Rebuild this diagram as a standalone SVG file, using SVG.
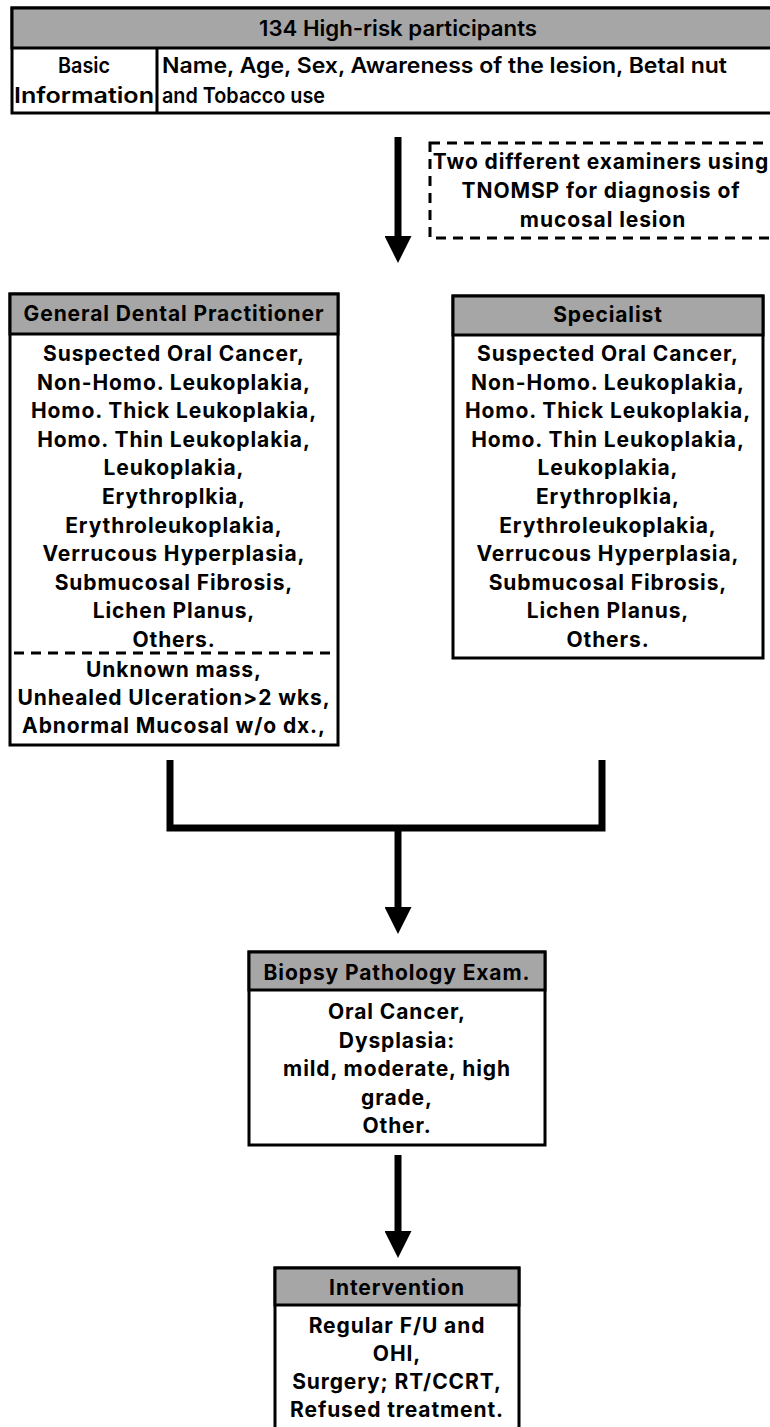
<svg xmlns="http://www.w3.org/2000/svg" width="770" height="1427" viewBox="0 0 770 1427">
<style>
.box{fill:#fff;stroke:#000;stroke-width:3}
.hdr{fill:#a6a6a6;stroke:#000;stroke-width:3}
.dash{fill:none;stroke:#000;stroke-width:3;stroke-dasharray:10 7}
.t{font-family:Inter,"DejaVu Sans",sans-serif;font-weight:700;font-size:21px;letter-spacing:0.9px;fill:#000;text-anchor:middle}
.tt{font-family:Inter,"Liberation Sans",sans-serif;font-weight:600;font-size:21.5px;fill:#000}
.c{fill:none;stroke:#000;stroke-width:7}
</style>
<defs>
<marker id="ah" markerUnits="userSpaceOnUse" viewBox="0 0 27 27" markerWidth="27" markerHeight="27" refX="0" refY="13.5" orient="auto">
<path d="M0,0 L27,13.5 L0,27 z" fill="#000"/>
</marker>
</defs>
<g id="participants">
<rect class="box" x="12" y="8" width="775" height="105"/>
<rect class="hdr" x="12" y="8" width="775" height="40"/>
<line x1="157" y1="48" x2="157" y2="113" stroke="#000" stroke-width="3"/>
<text class="tt" x="398" y="36" text-anchor="middle" textLength="278" lengthAdjust="spacingAndGlyphs">134 High-risk participants</text>
<text class="tt" x="84" y="73" text-anchor="middle" textLength="52" lengthAdjust="spacingAndGlyphs">Basic</text>
<text class="tt" x="84" y="103" text-anchor="middle" textLength="140" lengthAdjust="spacingAndGlyphs">Information</text>
<text class="tt" x="162" y="73" textLength="565" lengthAdjust="spacingAndGlyphs">Name, Age, Sex, Awareness of the lesion, Betal nut</text>
<text class="tt" x="162" y="103" textLength="163" lengthAdjust="spacingAndGlyphs">and Tobacco use</text>
</g>
<g id="examiners-note">
<rect class="dash" x="430" y="143" width="360" height="95"/>
<text class="t" x="601" y="169">Two different examiners using</text>
<text class="t" x="601" y="198">TNOMSP for diagnosis of</text>
<text class="t" x="603" y="227">mucosal lesion</text>
</g>
<g id="gdp">
<rect class="box" x="10" y="294" width="328" height="451"/>
<rect class="hdr" x="10" y="294" width="328" height="40"/>
<text class="t" x="174" y="321">General Dental Practitioner</text>
<text class="t" x="174" y="361">Suspected Oral Cancer,</text>
<text class="t" x="174" y="389.6">Non-Homo. Leukoplakia,</text>
<text class="t" x="174" y="418.2">Homo. Thick Leukoplakia,</text>
<text class="t" x="174" y="446.8">Homo. Thin Leukoplakia,</text>
<text class="t" x="174" y="475.4">Leukoplakia,</text>
<text class="t" x="174" y="504">Erythroplkia,</text>
<text class="t" x="174" y="532.6">Erythroleukoplakia,</text>
<text class="t" x="174" y="561.2">Verrucous Hyperplasia,</text>
<text class="t" x="174" y="589.8">Submucosal Fibrosis,</text>
<text class="t" x="174" y="618.4">Lichen Planus,</text>
<text class="t" x="174" y="647">Others.</text>
<line class="dash" x1="14" y1="653" x2="336" y2="653"/>
<text class="t" x="174" y="677">Unknown mass,</text>
<text class="t" x="174" y="705">Unhealed Ulceration&gt;2 wks,</text>
<text class="t" x="174" y="733">Abnormal Mucosal w/o dx.,</text>
</g>
<g id="specialist">
<rect class="box" x="453" y="296" width="310" height="362"/>
<rect class="hdr" x="453" y="296" width="310" height="39"/>
<text class="t" x="608" y="322">Specialist</text>
<text class="t" x="608" y="361">Suspected Oral Cancer,</text>
<text class="t" x="608" y="389.6">Non-Homo. Leukoplakia,</text>
<text class="t" x="608" y="418.2">Homo. Thick Leukoplakia,</text>
<text class="t" x="608" y="446.8">Homo. Thin Leukoplakia,</text>
<text class="t" x="608" y="475.4">Leukoplakia,</text>
<text class="t" x="608" y="504">Erythroplkia,</text>
<text class="t" x="608" y="532.6">Erythroleukoplakia,</text>
<text class="t" x="608" y="561.2">Verrucous Hyperplasia,</text>
<text class="t" x="608" y="589.8">Submucosal Fibrosis,</text>
<text class="t" x="608" y="618.4">Lichen Planus,</text>
<text class="t" x="608" y="647">Others.</text>
</g>
<g id="biopsy">
<rect class="box" x="249" y="952" width="296" height="193"/>
<rect class="hdr" x="249" y="952" width="296" height="38"/>
<text class="t" x="397" y="980">Biopsy Pathology Exam.</text>
<text class="t" x="397" y="1019">Oral Cancer,</text>
<text class="t" x="397" y="1048">Dysplasia:</text>
<text class="t" x="397" y="1076">mild, moderate, high</text>
<text class="t" x="397" y="1105">grade,</text>
<text class="t" x="397" y="1133">Other.</text>
</g>
<g id="intervention">
<rect class="box" x="275" y="1268" width="244" height="180"/>
<rect class="hdr" x="275" y="1268" width="244" height="37"/>
<text class="t" x="397" y="1295">Intervention</text>
<text class="t" x="397" y="1333">Regular F/U and</text>
<text class="t" x="397" y="1361">OHI,</text>
<text class="t" x="397" y="1389">Surgery; RT/CCRT,</text>
<text class="t" x="397" y="1417">Refused treatment.</text>
</g>
<g id="connectors">
<line class="c" x1="398" y1="137" x2="398" y2="236" marker-end="url(#ah)"/>
<path class="c" d="M170,760 V828 H602 V760"/>
<line class="c" x1="398" y1="828" x2="398" y2="907" marker-end="url(#ah)"/>
<line class="c" x1="398" y1="1155" x2="398" y2="1231" marker-end="url(#ah)"/>
</g>
</svg>
